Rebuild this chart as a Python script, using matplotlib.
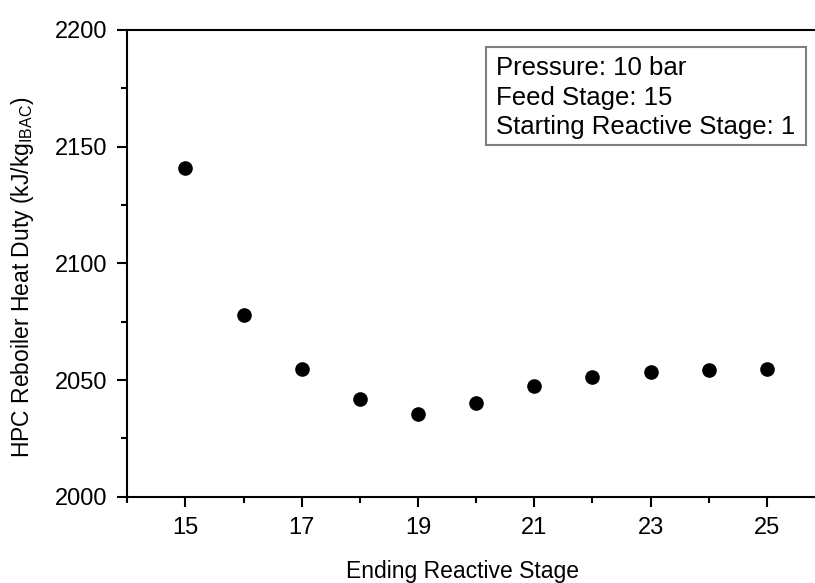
import matplotlib.pyplot as plt
from matplotlib.ticker import MultipleLocator
from matplotlib.patches import Rectangle

plt.rcParams['font.family'] = ['Liberation Sans', 'DejaVu Sans']
plt.rcParams['mathtext.fontset'] = 'custom'
plt.rcParams['mathtext.rm'] = 'Liberation Sans'

# data
stages = [15, 16, 17, 18, 19, 20, 21, 22, 23, 24, 25]
duty = [2140.7, 2077.9, 2054.6, 2041.7, 2035.4, 2040.0, 2047.4, 2051.4, 2053.4, 2054.3, 2054.7]
notes = ['Pressure: 10 bar', 'Feed Stage: 15', 'Starting Reactive Stage: 1']

W, H = 815, 583
x0, x1, y0, y1 = 127.3, 825, 496.7, 30   # axes box in pixels
fig = plt.figure(figsize=(W / 100, H / 100), dpi=100)
ax = fig.add_axes([x0 / W, 1 - y0 / H, (x1 - x0) / W, (y0 - y1) / H])

ax.plot(stages, duty, 'o', color='black', ms=9.5, ls='none', clip_on=False)

ax.set_xlim(14, 26)
ax.set_ylim(2000, 2200)
ax.set_xticks([15, 17, 19, 21, 23, 25])
ax.set_xticks([14, 16, 18, 20, 22, 24], minor=True)
ax.yaxis.set_major_locator(MultipleLocator(50))
ax.yaxis.set_minor_locator(MultipleLocator(25))

for s in ax.spines.values():
    s.set_linewidth(1.5)
ax.spines['right'].set_visible(False)
ax.tick_params(which='major', direction='out', length=7, width=1.5, labelsize=17, pad=7.5)
ax.tick_params(which='minor', direction='out', length=4.3, width=1.5)

ax.set_xlabel('Ending Reactive Stage', fontsize=16.5, va='baseline')
ax.set_ylabel(r'HPC Reboiler Heat Duty (kJ/kg$_{\mathrm{IBAC}}$)', fontsize=16.5, va='center')
ax.xaxis.set_label_coords((463 - x0) / (x1 - x0), -(578 - y0) / (y0 - y1))
ax.yaxis.set_label_coords(-(x0 - 22) / (x1 - x0), (y0 - 277) / (y0 - y1))

# info box
fig.patches.append(Rectangle((486 / W, 1 - 145 / H), (806 - 486) / W, (145 - 47.3) / H,
                             transform=fig.transFigure, fill=False, edgecolor='#7f7f7f', lw=1.5))
for i, t in enumerate(notes):
    fig.text(496 / W, 1 - (75 + 29.5 * i) / H, t, fontsize=18.5, va='baseline', ha='left')

fig.savefig('out.png', dpi=100)
